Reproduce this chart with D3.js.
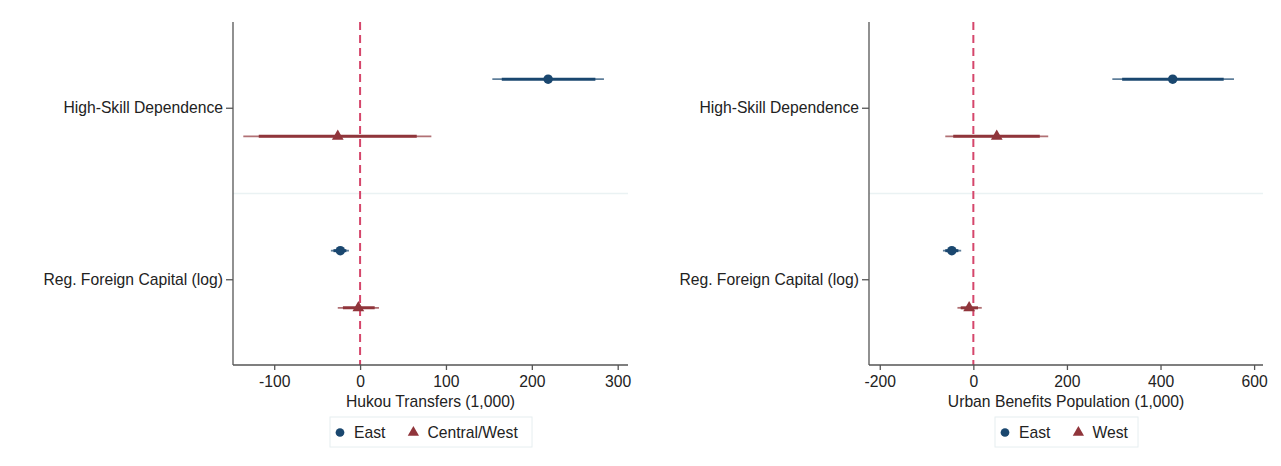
<!DOCTYPE html>
<html>
<head>
<meta charset="utf-8">
<script src="https://cdn.jsdelivr.net/npm/d3@7"></script>
<style>
  body { margin: 0; background: #fff; }
  svg { font-family: "Liberation Sans", Arial, sans-serif; }
</style>
</head>
<body>
<div id="chart"></div>
<script>
// rows (coefficients) and series
const rows = ['High-Skill Dependence', 'Reg. Foreign Capital (log)'];

// left panel: Hukou Transfers
const hukouTicks = [-100, 0, 100, 200, 300];
const hukouEastB = [219, -23];
const hukouEastCI95 = [[154, 284], [-34, -13]];
const hukouEastCI90 = [[165, 274], [-31, -16]];
const hukouCwB = [-26, -2];
const hukouCwCI95 = [[-136, 83], [-26, 22]];
const hukouCwCI90 = [[-118, 66], [-20, 17]];

// right panel: Urban Benefits Population
const urbanTicks = [-200, 0, 200, 400, 600];
const urbanEastB = [426, -46];
const urbanEastCI95 = [[297, 557], [-65, -26]];
const urbanEastCI90 = [[318, 535], [-60, -32]];
const urbanWestB = [50, -9];
const urbanWestCI95 = [[-60, 160], [-34, 18]];
const urbanWestCI90 = [[-43, 142], [-27, 10]];

const blue = '#1a476f', red = '#90353b';
const fs = '15.7px';

const svg = d3.select('#chart').append('svg')
    .attr('width', 1281)
    .attr('height', 466);

function panel(opt) {
    const x = d3.scaleLinear().domain(opt.domain).range([opt.left, opt.right]);
    const y = d3.scaleLinear().domain([0.5, 2.5]).range([22, 365]);
    const g = svg.append('g');

    // separator between groups
    g.append('line')
        .attr('x1', opt.left).attr('x2', opt.right)
        .attr('y1', y(1.5)).attr('y2', y(1.5))
        .attr('stroke', '#eaf2f3').attr('stroke-width', 1.5);

    // zero reference line
    g.append('line')
        .attr('x1', x(0)).attr('x2', x(0))
        .attr('y1', y(0.5)).attr('y2', y(2.5))
        .attr('stroke', '#d5466b').attr('stroke-width', 2)
        .attr('stroke-dasharray', '8,5');

    opt.series.forEach((s, si) => {
        const off = si === 0 ? -1 / 6 : 1 / 6;
        const pts = rows.map((r, i) => ({
            y: y(i + 1 + off), b: s.b[i], c95: s.ci95[i], c90: s.ci90[i]
        }));
        g.selectAll(null).data(pts).join('line')
            .attr('x1', d => x(d.c95[0])).attr('x2', d => x(d.c95[1]))
            .attr('y1', d => d.y).attr('y2', d => d.y)
            .attr('stroke', s.color).attr('stroke-opacity', 0.7)
            .attr('stroke-width', 1.8);
        g.selectAll(null).data(pts).join('line')
            .attr('x1', d => x(d.c90[0])).attr('x2', d => x(d.c90[1]))
            .attr('y1', d => d.y).attr('y2', d => d.y)
            .attr('stroke', s.color).attr('stroke-width', 3);
        g.selectAll(null).data(pts).join('path')
            .attr('transform', d => `translate(${x(d.b)},${d.y})`)
            .attr('d', d3.symbol().type(s.shape).size(s.shape === d3.symbolCircle ? 70 : 60))
            .attr('fill', s.color);
    });

    // x axis
    const xa = g.append('g')
        .attr('transform', `translate(0,365)`)
        .call(d3.axisBottom(x).tickValues(opt.ticks).tickSize(5).tickPadding(6).tickFormat(d3.format('d')));
    xa.select('.domain').attr('d', `M${opt.left},0H${opt.right}`).attr('stroke', '#555').attr('stroke-width', 1.3);
    xa.selectAll('.tick line').attr('stroke', '#555').attr('stroke-width', 1.3);
    xa.selectAll('.tick text').attr('fill', '#222').style('font-size', fs);
    xa.selectAll('.tick text').text(d => d < 0 ? '-' + Math.abs(d) : d);

    // y axis
    const yb = d3.scaleOrdinal().domain(rows).range([y(1), y(2)]);
    const ya = g.append('g')
        .attr('transform', `translate(${opt.left},0)`)
        .call(d3.axisLeft(yb).tickSize(7).tickPadding(3));
    ya.select('.domain').attr('d', `M0,${y(0.5)}V${y(2.5)}`).attr('stroke', '#555').attr('stroke-width', 1.3);
    ya.selectAll('.tick line').attr('stroke', '#555').attr('stroke-width', 1.3);
    ya.selectAll('.tick text').attr('fill', '#222').style('font-size', fs);

    // axis title
    g.append('text')
        .attr('x', (opt.left + opt.right) / 2).attr('y', 407)
        .attr('text-anchor', 'middle')
        .style('font-size', fs).attr('fill', '#222')
        .text(opt.title);

    // legend
    const lg = g.append('g');
    lg.append('rect')
        .attr('x', opt.legend.x).attr('y', 417)
        .attr('width', opt.legend.w).attr('height', 30)
        .attr('fill', '#fff').attr('stroke', '#e6eef0').attr('stroke-width', 1);
    let lx = opt.legend.x + 10;
    opt.series.forEach((s, si) => {
        lg.append('path')
            .attr('transform', `translate(${lx},432.5)`)
            .attr('d', d3.symbol().type(s.shape).size(s.shape === d3.symbolCircle ? 60 : 55))
            .attr('fill', s.color);
        const t = lg.append('text')
            .attr('x', lx + 14).attr('y', 438)
            .style('font-size', fs).attr('fill', '#222')
            .text(s.name);
        lx += 14 + t.node().getComputedTextLength() + 28;
    });
}

panel({
    left: 233, right: 628, domain: [-148, 312], ticks: hukouTicks,
    title: 'Hukou Transfers (1,000)',
    legend: { x: 330, w: 202 },
    series: [
        { name: 'East', b: hukouEastB, ci95: hukouEastCI95, ci90: hukouEastCI90, color: blue, shape: d3.symbolCircle },
        { name: 'Central/West', b: hukouCwB, ci95: hukouCwCI95, ci90: hukouCwCI90, color: red, shape: d3.symbolTriangle }
    ]
});

panel({
    left: 869, right: 1263, domain: [-223, 619], ticks: urbanTicks,
    title: 'Urban Benefits Population (1,000)',
    legend: { x: 995, w: 143 },
    series: [
        { name: 'East', b: urbanEastB, ci95: urbanEastCI95, ci90: urbanEastCI90, color: blue, shape: d3.symbolCircle },
        { name: 'West', b: urbanWestB, ci95: urbanWestCI95, ci90: urbanWestCI90, color: red, shape: d3.symbolTriangle }
    ]
});
</script>
</body>
</html>
